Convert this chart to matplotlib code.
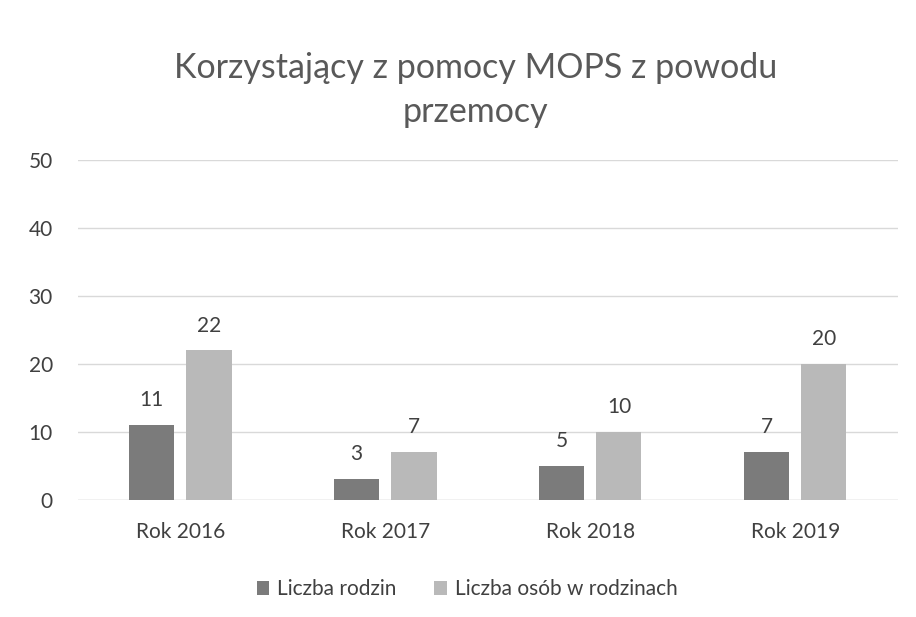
import matplotlib
matplotlib.use("Agg")
import matplotlib.pyplot as plt
import numpy as np

categories = ["Rok 2016", "Rok 2017", "Rok 2018", "Rok 2019"]
rodziny = [11, 3, 5, 7]
osoby = [22, 7, 10, 20]
series_names = ["Liczba rodzin", "Liczba osób w rodzinach"]
title = "Korzystający z pomocy MOPS z powodu\nprzemocy"

plt.rcParams['font.family'] = ['Lato', 'DejaVu Sans']

fig = plt.figure(figsize=(9.16, 6.17), dpi=100)
ax = fig.add_axes([0.085, 0.19, 0.895, 0.55])

x = np.arange(len(categories))
w = 0.22
gap = 0.03
c1 = "#7b7b7b"
c2 = "#b9b9b9"
b1 = ax.bar(x - w/2 - gap, rodziny, w, color=c1, label=series_names[0], zorder=3)
b2 = ax.bar(x + w/2 + gap, osoby, w, color=c2, label=series_names[1], zorder=3)
for bars, vals in ((b1, rodziny), (b2, osoby)):
    for r, v in zip(bars, vals):
        ax.text(r.get_x() + r.get_width()/2, v + 2.2, str(v), ha="center", va="bottom",
                fontsize=15, color="#404040")

ax.set_ylim(0, 50)
ax.set_yticks([0, 10, 20, 30, 40, 50])
ax.set_xlim(-0.5, 3.5)
ax.set_xticks(x)
ax.set_xticklabels(categories)
ax.tick_params(axis="both", length=0, labelsize=15, colors="#404040")
ax.tick_params(axis="x", pad=16)
ax.tick_params(axis="y", pad=18)
ax.grid(axis="y", color="#d9d9d9", linewidth=1, zorder=0)
for s in ax.spines.values():
    s.set_visible(False)
ax.axhline(0, color="#d9d9d9", linewidth=1, zorder=2)

fig.text(0.519, 0.915, title, ha="center", va="top", fontsize=24.5, color="#595959",
         linespacing=1.45)

fig.legend(handles=[b1, b2], labels=series_names, loc="center", bbox_to_anchor=(0.51, 0.045),
           ncol=2, frameon=False, fontsize=15, handlelength=0.6, handleheight=0.6,
           columnspacing=1.8, handletextpad=0.4, labelcolor="#404040")

fig.savefig("out.png", dpi=100, facecolor="white")
